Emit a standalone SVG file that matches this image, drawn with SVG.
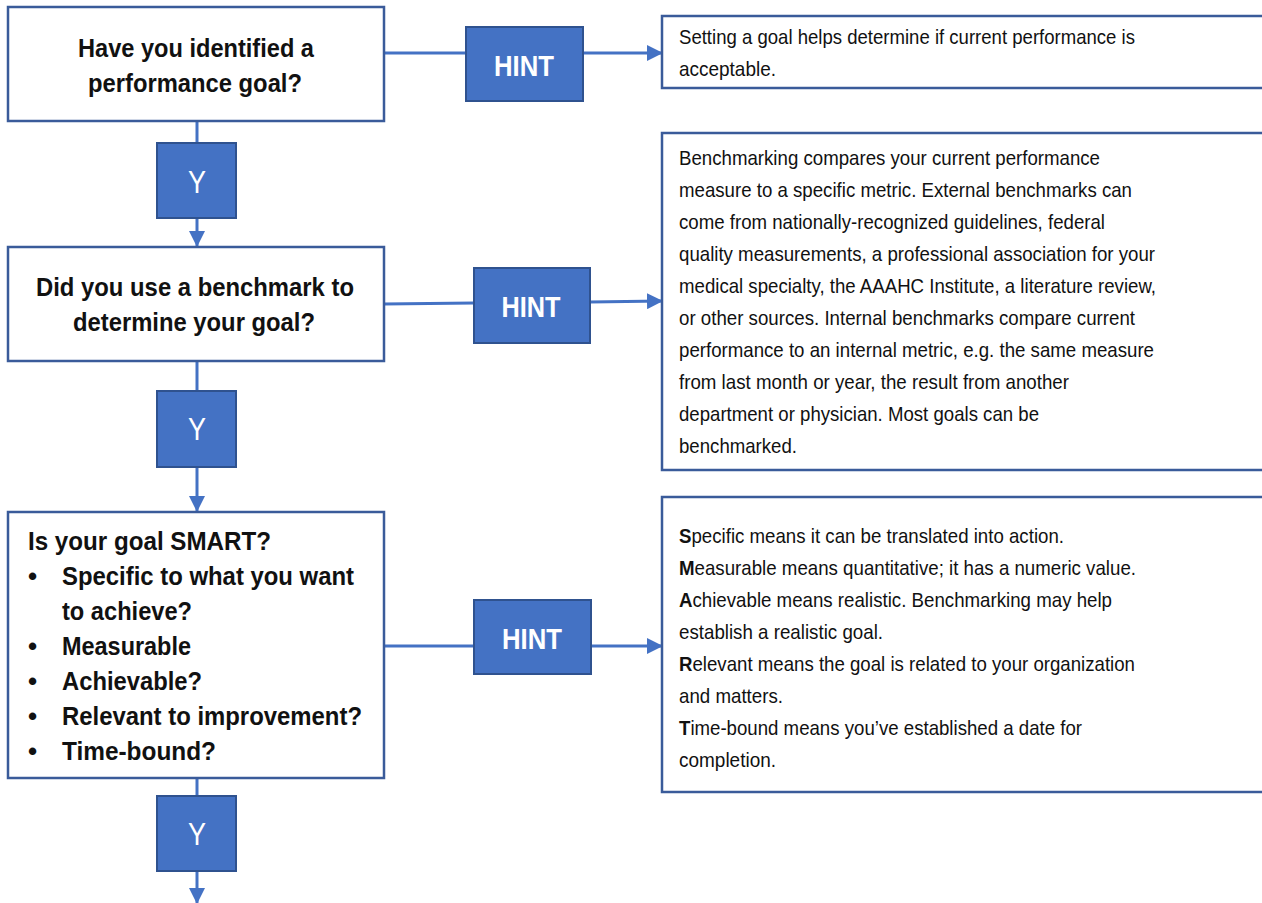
<svg xmlns="http://www.w3.org/2000/svg" width="1262" height="903" viewBox="0 0 1262 903">
<style>
.box{fill:#ffffff;stroke:#3A5B9A;stroke-width:2.5}
.tag{fill:#4472C4;stroke:#2F528F;stroke-width:2}
.conn{stroke:#4472C4;stroke-width:3;fill:none}
.q{font-family:"Liberation Sans",Arial,sans-serif;font-weight:bold;font-size:26px;fill:#111}
.qc{text-anchor:middle}
.h{font-family:"Liberation Sans",Arial,sans-serif;font-size:21px;fill:#111}
.hint{font-family:"Liberation Sans",Arial,sans-serif;font-weight:bold;font-size:29px;fill:#fff;text-anchor:middle}
.y{font-family:"Liberation Sans",Arial,sans-serif;font-size:31px;fill:#fff;text-anchor:middle}
</style>
<defs>
<marker id="ah" markerUnits="userSpaceOnUse" markerWidth="16" markerHeight="16" viewBox="0 0 16 16" refX="15" refY="8" orient="auto">
<path d="M0,0 L16,8 L0,16 Z" fill="#4472C4"/>
</marker>
</defs>
<rect width="1262" height="903" fill="#ffffff"/>

<g id="connectors">
<line class="conn" x1="197" y1="121" x2="197" y2="143"/>
<line class="conn" x1="197" y1="218" x2="197" y2="246" marker-end="url(#ah)"/>
<line class="conn" x1="197" y1="361" x2="197" y2="391"/>
<line class="conn" x1="197" y1="467" x2="197" y2="511" marker-end="url(#ah)"/>
<line class="conn" x1="197" y1="778" x2="197" y2="796"/>
<line class="conn" x1="197" y1="871" x2="197" y2="903" marker-end="url(#ah)"/>
<line class="conn" x1="384" y1="53" x2="466" y2="53"/>
<line class="conn" x1="583" y1="53" x2="662" y2="53" marker-end="url(#ah)"/>
<line class="conn" x1="384" y1="304" x2="474" y2="303"/>
<line class="conn" x1="590" y1="302" x2="662" y2="301" marker-end="url(#ah)"/>
<line class="conn" x1="384" y1="646" x2="474" y2="646"/>
<line class="conn" x1="591" y1="646" x2="662" y2="646" marker-end="url(#ah)"/>
</g>

<g id="q1">
<rect class="box" x="8" y="7" width="376" height="114"/>
<text class="q qc" x="196" y="57" textLength="236" lengthAdjust="spacingAndGlyphs">Have you identified a</text>
<text class="q qc" x="195" y="92" textLength="214" lengthAdjust="spacingAndGlyphs">performance goal?</text>
</g>

<g id="y1">
<rect class="tag" x="157" y="143" width="79" height="75"/>
<text class="y" x="197" y="193" textLength="18" lengthAdjust="spacingAndGlyphs">Y</text>
</g>

<g id="hint1">
<rect class="tag" x="466" y="27" width="117" height="74"/>
<text class="hint" x="524" y="76" textLength="60" lengthAdjust="spacingAndGlyphs">HINT</text>
</g>

<g id="note1">
<rect class="box" x="662" y="16" width="610" height="72"/>
<text class="h" x="679" y="44" textLength="456" lengthAdjust="spacingAndGlyphs">Setting a goal helps determine if current performance is</text>
<text class="h" x="679" y="76" textLength="97" lengthAdjust="spacingAndGlyphs">acceptable.</text>
</g>

<g id="q2">
<rect class="box" x="8" y="247" width="376" height="114"/>
<text class="q qc" x="195" y="296" textLength="318" lengthAdjust="spacingAndGlyphs">Did you use a benchmark to</text>
<text class="q qc" x="194" y="331" textLength="242" lengthAdjust="spacingAndGlyphs">determine your goal?</text>
</g>

<g id="y2">
<rect class="tag" x="157" y="391" width="79" height="76"/>
<text class="y" x="197" y="440" textLength="18" lengthAdjust="spacingAndGlyphs">Y</text>
</g>

<g id="hint2">
<rect class="tag" x="474" y="268" width="116" height="75"/>
<text class="hint" x="531" y="317" textLength="59" lengthAdjust="spacingAndGlyphs">HINT</text>
</g>

<g id="note2">
<rect class="box" x="662" y="133" width="610" height="337"/>
<text class="h" x="679" y="165" textLength="421" lengthAdjust="spacingAndGlyphs">Benchmarking compares your current performance</text>
<text class="h" x="679" y="197" textLength="453" lengthAdjust="spacingAndGlyphs">measure to a specific metric. External benchmarks can</text>
<text class="h" x="679" y="229" textLength="426" lengthAdjust="spacingAndGlyphs">come from nationally-recognized guidelines, federal</text>
<text class="h" x="679" y="261" textLength="476" lengthAdjust="spacingAndGlyphs">quality measurements, a professional association for your</text>
<text class="h" x="679" y="293" textLength="477" lengthAdjust="spacingAndGlyphs">medical specialty, the AAAHC Institute, a literature review,</text>
<text class="h" x="679" y="325" textLength="456" lengthAdjust="spacingAndGlyphs">or other sources. Internal benchmarks compare current</text>
<text class="h" x="679" y="357" textLength="475" lengthAdjust="spacingAndGlyphs">performance to an internal metric, e.g. the same measure</text>
<text class="h" x="679" y="389" textLength="390" lengthAdjust="spacingAndGlyphs">from last month or year, the result from another</text>
<text class="h" x="679" y="421" textLength="360" lengthAdjust="spacingAndGlyphs">department or physician. Most goals can be</text>
<text class="h" x="679" y="453" textLength="118" lengthAdjust="spacingAndGlyphs">benchmarked.</text>
</g>

<g id="q3">
<rect class="box" x="8" y="512" width="376" height="266"/>
<text class="q" x="28" y="550" textLength="243" lengthAdjust="spacingAndGlyphs">Is your goal SMART?</text>
<text class="q" x="28" y="585">•</text>
<text class="q" x="62" y="585" textLength="292" lengthAdjust="spacingAndGlyphs">Specific to what you want</text>
<text class="q" x="62" y="620" textLength="130" lengthAdjust="spacingAndGlyphs">to achieve?</text>
<text class="q" x="28" y="655">•</text>
<text class="q" x="62" y="655" textLength="129" lengthAdjust="spacingAndGlyphs">Measurable</text>
<text class="q" x="28" y="690">•</text>
<text class="q" x="62" y="690" textLength="140" lengthAdjust="spacingAndGlyphs">Achievable?</text>
<text class="q" x="28" y="725">•</text>
<text class="q" x="62" y="725" textLength="300" lengthAdjust="spacingAndGlyphs">Relevant to improvement?</text>
<text class="q" x="28" y="760">•</text>
<text class="q" x="62" y="760" textLength="154" lengthAdjust="spacingAndGlyphs">Time-bound?</text>
</g>

<g id="hint3">
<rect class="tag" x="474" y="600" width="117" height="74"/>
<text class="hint" x="532" y="649" textLength="60" lengthAdjust="spacingAndGlyphs">HINT</text>
</g>

<g id="note3">
<rect class="box" x="662" y="497" width="610" height="295"/>
<text class="h" x="679" y="543" textLength="385" lengthAdjust="spacingAndGlyphs"><tspan font-weight="bold">S</tspan>pecific means it can be translated into action.</text>
<text class="h" x="679" y="575" textLength="457" lengthAdjust="spacingAndGlyphs"><tspan font-weight="bold">M</tspan>easurable means quantitative; it has a numeric value.</text>
<text class="h" x="679" y="607" textLength="433" lengthAdjust="spacingAndGlyphs"><tspan font-weight="bold">A</tspan>chievable means realistic. Benchmarking may help</text>
<text class="h" x="679" y="639" textLength="204" lengthAdjust="spacingAndGlyphs">establish a realistic goal.</text>
<text class="h" x="679" y="671" textLength="456" lengthAdjust="spacingAndGlyphs"><tspan font-weight="bold">R</tspan>elevant means the goal is related to your organization</text>
<text class="h" x="679" y="703" textLength="104" lengthAdjust="spacingAndGlyphs">and matters.</text>
<text class="h" x="679" y="735" textLength="403" lengthAdjust="spacingAndGlyphs"><tspan font-weight="bold">T</tspan>ime-bound means you’ve established a date for</text>
<text class="h" x="679" y="767" textLength="97" lengthAdjust="spacingAndGlyphs">completion.</text>
</g>

<g id="y3">
<rect class="tag" x="157" y="796" width="79" height="75"/>
<text class="y" x="197" y="845" textLength="18" lengthAdjust="spacingAndGlyphs">Y</text>
</g>
</svg>
